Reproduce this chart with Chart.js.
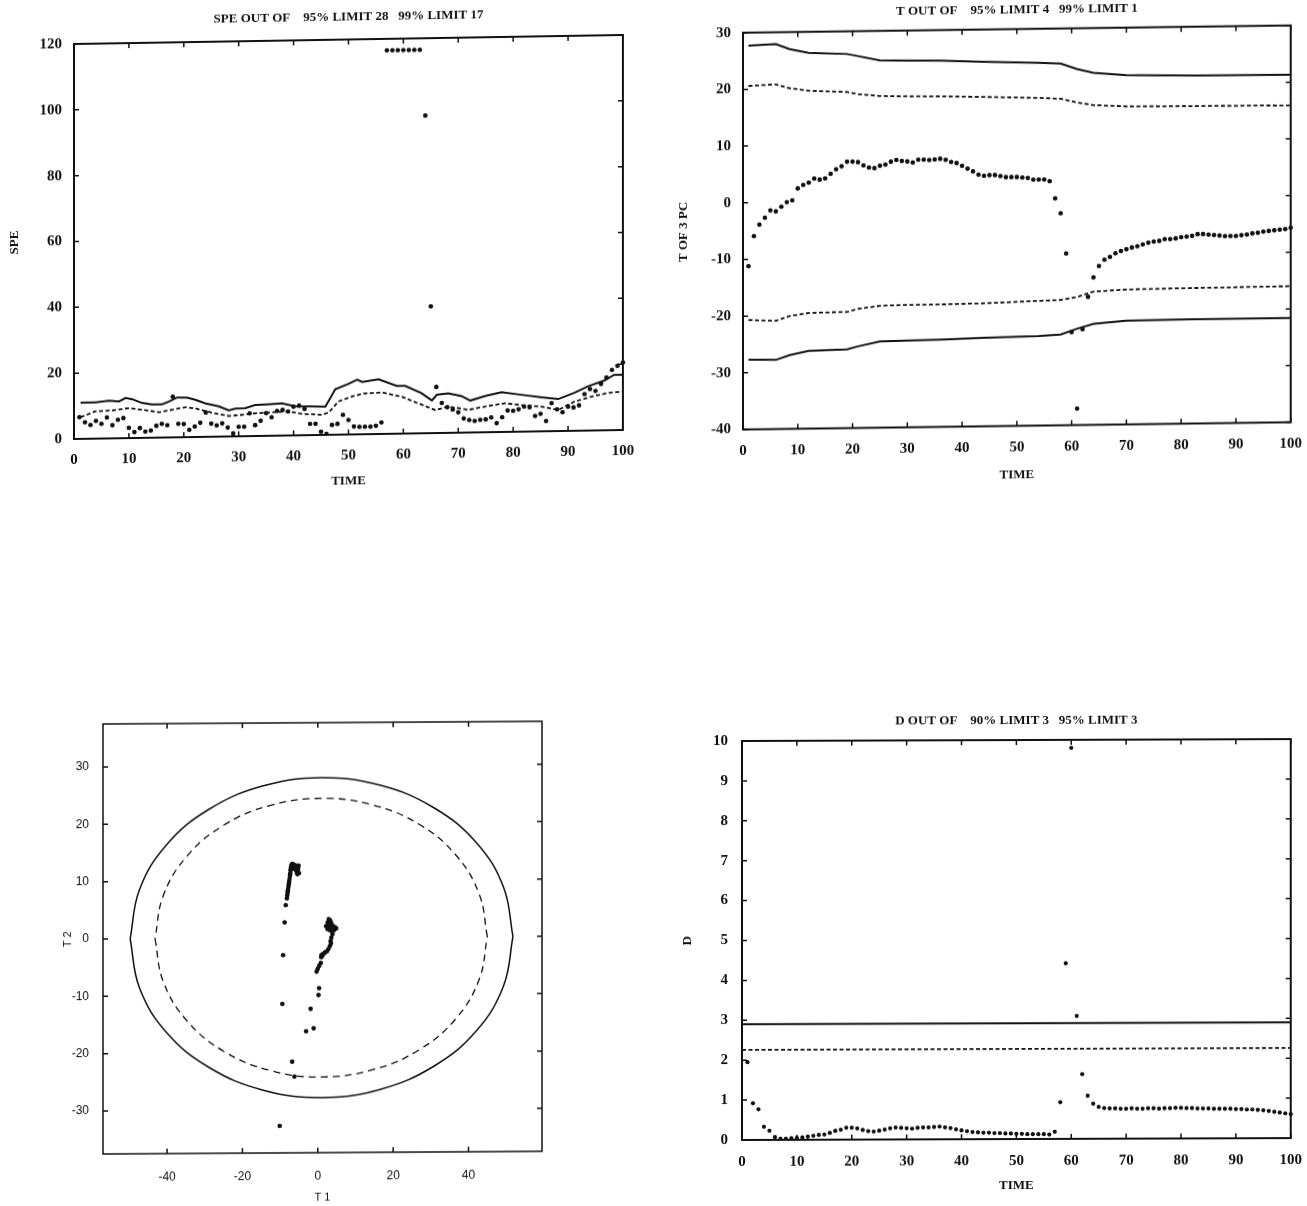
<!DOCTYPE html>
<html>
<head>
<meta charset="utf-8">
<script src="https://cdn.jsdelivr.net/npm/chart.js@4.4.0/dist/chart.umd.min.js"></script>
<style>
  html, body { margin: 0; padding: 0; background: #fff; }
  body { width: 1307px; height: 1206px; position: relative; overflow: hidden; }
  canvas { position: absolute; }
</style>
</head>
<body>
<canvas id="spe"></canvas>
<canvas id="tpc"></canvas>
<canvas id="scores"></canvas>
<canvas id="dist"></canvas>
<script>
Chart.defaults.font.family = '"Liberation Serif", "Times New Roman", serif';
Chart.defaults.color = '#111';

const TIME = Array.from({ length: 100 }, (_, i) => i + 1);
const timeTicks = [0, 10, 20, 30, 40, 50, 60, 70, 80, 90, 100];

// SPE panel
const speTicks = [0, 20, 40, 60, 80, 100, 120];
const speValues = [
  6.6, 5.0, 4.2, 5.4, 4.5, 6.4, 4.0, 5.6, 6.1, 3.1,
  1.8, 3.0, 1.9, 2.2, 3.6, 4.2, 3.7, 12.4, 4.1, 4.0,
  2.2, 3.2, 4.3, 7.4, 4.0, 3.4, 4.0, 2.7, 0.9, 2.9,
  2.9, 6.9, 3.3, 4.6, 6.9, 5.6, 7.5, 7.8, 7.3, 8.7,
  9.0, 8.0, 3.4, 3.4, 1.0, 0.3, 3.0, 3.3, 6.0, 4.4,
  2.4, 2.3, 2.3, 2.3, 2.5, 3.5, 116.5, 116.5, 116.5, 116.5,
  116.5, 116.5, 116.5, 96.5, 38.5, 14.0, 9.1, 7.8, 7.1, 6.2,
  4.3, 3.8, 3.5, 3.8, 3.9, 4.5, 2.7, 4.5, 6.5, 6.4,
  6.8, 7.6, 7.4, 4.7, 5.3, 3.1, 8.5, 6.6, 5.7, 7.4,
  7.1, 7.7, 11.1, 12.6, 12.0, 14.1, 16.0, 18.3, 19.5, 20.5
];
const speLimit99Time = [1.2, 3.9, 6.4, 8.2, 9.4, 10.6, 12.4, 14.2, 16.1, 17.3, 18.8, 20.6, 22.1, 23.9, 26.4, 28.2,
  29.4, 31.2, 33, 35.5, 37.9, 40.3, 42.7, 45.8, 47.6, 50, 51.6, 52.5, 55.5, 58.8, 60.3, 63.3, 65.2, 66.1, 68.2,
  70.6, 72.2, 74.9, 77.9, 81.5, 85.2, 88.2, 91.2, 93.6, 96.6, 98.4, 100];
const speLimit99 = [11.0, 11.0, 11.5, 11.2, 12.2, 11.8, 10.6, 10.1, 10.1, 10.9, 12.1, 12.0, 11.3, 10.2, 9.2, 7.9,
  8.4, 8.5, 9.4, 9.6, 9.8, 8.8, 8.7, 8.6, 13.8, 15.4, 16.6, 15.9, 16.6, 14.5, 14.5, 12.2, 9.9, 11.6, 12.0,
  11.1, 9.7, 11.0, 12.1, 11.2, 10.3, 9.7, 11.6, 13.4, 15.1, 16.8, 16.8];
const speLimit95Time = [1.2, 3.9, 7, 10, 13, 15.5, 17.9, 20.3, 22.1, 25.1, 28.2, 30.6, 33, 36.1, 39.1, 41.5, 45.2,
  46.4, 48.2, 50.6, 52.5, 56.1, 59.7, 62.7, 65.8, 68.2, 71.8, 74.9, 78.5, 81.5, 85.2, 88.2, 91.2, 94.8, 97.2, 100];
const speLimit95 = [6.6, 8.3, 8.5, 9.1, 8.4, 7.7, 8.4, 9.1, 8.7, 7.3, 6.2, 6.5, 6.9, 7.1, 7.3, 6.5, 6.1,
  6.8, 10.1, 11.5, 12.3, 12.6, 11.2, 9.1, 7.0, 8.0, 6.9, 7.8, 8.7, 8.1, 7.5, 6.4, 8.9, 10.5, 11.3, 11.7];

// T of 3 PC panel
const tTicks = [-40, -30, -20, -10, 0, 10, 20, 30];
const tValues = [
  -11.2, -5.9, -3.9, -2.7, -1.4, -1.6, -0.8, 0.0, 0.3, 2.4,
  3.0, 3.4, 4.1, 3.9, 4.1, 4.9, 5.7, 6.2, 7.0, 7.0,
  6.9, 6.3, 5.9, 5.8, 6.2, 6.4, 6.9, 7.2, 7.0, 6.9,
  6.7, 7.2, 7.2, 7.1, 7.2, 7.3, 7.1, 6.7, 6.5, 6.0,
  5.5, 5.0, 4.4, 4.2, 4.3, 4.3, 4.1, 3.9, 3.9, 3.9,
  3.8, 3.7, 3.4, 3.4, 3.4, 3.1, 0.05, -2.6, -9.7, -23.6,
  -37.1, -23.1, -17.4, -14.0, -12.0, -10.9, -10.4, -9.8, -9.4, -9.1,
  -8.8, -8.6, -8.3, -8.0, -7.8, -7.7, -7.4, -7.4, -7.3, -7.1,
  -7.0, -6.9, -6.6, -6.6, -6.7, -6.8, -6.9, -7.0, -7.0, -7.0,
  -6.9, -6.8, -6.6, -6.5, -6.3, -6.2, -6.1, -6.0, -5.9, -5.7
];
const tLimitTime = [1, 6, 8.5, 12, 19, 21, 25, 30, 36, 44, 54, 58, 61, 64, 70, 82, 100];
const tUpper99 = [27.7, 27.9, 27.0, 26.3, 26.0, 25.6, 24.8, 24.7, 24.6, 24.3, 24.0, 23.8, 22.8, 22.1, 21.6, 21.4, 21.3];
const tUpper95 = [20.6, 20.8, 20.1, 19.6, 19.3, 18.9, 18.5, 18.4, 18.3, 18.1, 17.8, 17.6, 16.9, 16.4, 16.1, 16.0, 15.9];
const tLower95 = [-20.7, -20.9, -20.1, -19.6, -19.5, -19.0, -18.5, -18.4, -18.4, -18.3, -18.0, -17.9, -17.4, -16.5, -16.2, -16.1, -16.0];
const tLower99 = [-27.7, -27.8, -27.0, -26.3, -26.1, -25.6, -24.8, -24.7, -24.6, -24.4, -24.2, -24.0, -23.0, -22.2, -21.7, -21.6, -21.6];

// score plot T1 / T2
const t1Ticks = [-40, -20, 0, 20, 40];
const t2Ticks = [-30, -20, -10, 0, 10, 20, 30];
const t1Scores = [
  -8.5, -8.2, -8.1, -8.0, -7.9, -7.8, -7.7, -7.6, -7.5, -7.4, -7.3, -7.2, -7.1, -7.0, -6.8, -6.5, -6.2,
  -5.8, -5.4, -5.2, -5.3, -5.6, -5.9, -6.3, -6.7, -5.0, -5.4, -7.95, -7.65, -7.35, -7.15, -6.9, -5.1, -5.7,
  -8.8, -9.2, -9.4, -6.8, -6.2, -10.1,
  2.9, 3.3, 2.6, 3.0, 3.6, 2.2, 2.8, 3.4, 4.1, 4.6, 4.9, 4.3, 3.8, 3.2, 2.6, 3.9, 3.6, 3.4, 3.5, 3.2,
  2.8, 2.4, 1.9, 1.5, 1.0, 0.9, 1.2, 0.8, 0.4, 0.0, -0.3,
  0.35, 0.2, -1.9, -1.1, -3.1
];
const t2Scores = [
  5.7, 6.9, 7.4, 7.9, 8.4, 8.9, 9.3, 9.8, 10.3, 10.8, 11.3, 11.8, 12.3, 12.7, 12.9, 12.8, 12.7,
  12.6, 12.5, 12.2, 11.8, 11.5, 11.9, 12.1, 12.3, 11.3, 11.1, 8.1, 9.6, 11.0, 12.0, 12.5, 12.6, 12.0,
  2.7, -3.0, -11.5, -21.6, -24.2, -32.8,
  3.2, 3.0, 2.6, 2.4, 2.5, 2.0, 1.9, 1.8, 2.0, 1.8, 1.6, 1.3, 1.1, 1.3, 1.5, 0.6, 0.0, -0.6, -1.0, -1.5,
  -2.0, -2.4, -2.6, -2.8, -3.0, -3.4, -3.2, -4.4, -4.9, -5.4, -5.9,
  -8.8, -10.0, -12.4, -15.8, -16.3
];
// limit contours, read as vertices going round from the right-hand point
const ellipse99X = [51.8, 49.3, 42.1, 30.9, 16.7, 1.0, -14.7, -28.9, -40.1, -47.3, -49.8, -47.3, -40.1, -28.9, -14.7, 1.0, 16.7, 30.9, 42.1, 49.3, 51.8];
const ellipse99Y = [0, 8.6, 16.4, 22.5, 26.5, 27.9, 26.5, 22.5, 16.4, 8.6, 0, -8.6, -16.4, -22.5, -26.5, -27.9, -26.5, -22.5, -16.4, -8.6, 0];
const ellipse95X = [45.0, 42.8, 36.6, 26.8, 14.5, 0.9, -12.7, -25.0, -34.8, -41.0, -43.2, -41.0, -34.8, -25.0, -12.7, 0.9, 14.5, 26.8, 36.6, 42.8, 45.0];
const ellipse95Y = [0, 7.5, 14.3, 19.7, 23.1, 24.3, 23.1, 19.7, 14.3, 7.5, 0, -7.5, -14.3, -19.7, -23.1, -24.3, -23.1, -19.7, -14.3, -7.5, 0];

// D panel
const dTicks = [0, 1, 2, 3, 4, 5, 6, 7, 8, 9, 10];
const dValues = [
  1.95, 0.92, 0.77, 0.33, 0.23, 0.07, 0.03, 0.03, 0.04, 0.05,
  0.06, 0.08, 0.10, 0.12, 0.13, 0.17, 0.22, 0.25, 0.30, 0.30,
  0.28, 0.24, 0.21, 0.20, 0.22, 0.25, 0.28, 0.30, 0.29, 0.28,
  0.27, 0.29, 0.30, 0.30, 0.31, 0.32, 0.30, 0.28, 0.25, 0.22,
  0.20, 0.18, 0.17, 0.16, 0.16, 0.15, 0.15, 0.14, 0.14, 0.13,
  0.13, 0.12, 0.12, 0.12, 0.12, 0.11, 0.18, 0.92, 4.4, 9.8,
  3.08, 1.62, 1.08, 0.88, 0.80, 0.77, 0.76, 0.76, 0.75, 0.75,
  0.76, 0.75, 0.75, 0.76, 0.76, 0.75, 0.76, 0.76, 0.77, 0.77,
  0.76, 0.76, 0.75, 0.75, 0.75, 0.74, 0.74, 0.74, 0.74, 0.73,
  0.73, 0.72, 0.72, 0.71, 0.70, 0.68, 0.66, 0.64, 0.62, 0.60
];
const dLimitTime = [0, 100];
const dLimit95 = [2.9, 2.9];
const dLimit90 = [2.26, 2.26];

const pts = (xs, ys) => xs.map((x, i) => ({ x: x, y: ys[i] }));

const solid = (data, w) => ({ data, showLine: true, borderColor: '#111', borderWidth: w, pointRadius: 0, tension: 0, fill: false });
const dashed = (data, w, dash) => ({ ...solid(data, w), borderDash: dash });
const curve = (data, w, dash) => ({ ...solid(data, w), borderDash: dash || [], tension: 0.4 });
const dots = (data, r) => ({ data, showLine: false, pointRadius: r, pointBackgroundColor: '#111', pointBorderWidth: 0, clip: 8 });

// box around plot with inward ticks on all sides, plus the panel heading
const frame = {
  id: 'frame',
  afterDraw(chart, args, o) {
    const { ctx, chartArea: a } = chart;
    const xs = chart.scales.x, ys = chart.scales.y;
    ctx.save();
    ctx.strokeStyle = '#111';
    ctx.lineWidth = o.width;
    ctx.strokeRect(a.left, a.top, a.right - a.left, a.bottom - a.top);
    ctx.lineWidth = o.tickWidth;
    ctx.beginPath();
    xs.ticks.forEach(t => {
      const p = xs.getPixelForValue(t.value);
      ctx.moveTo(p, a.bottom); ctx.lineTo(p, a.bottom - o.tick);
      ctx.moveTo(p, a.top); ctx.lineTo(p, a.top + o.tick);
    });
    ys.ticks.forEach(t => {
      const p = ys.getPixelForValue(t.value);
      ctx.moveTo(a.left, p); ctx.lineTo(a.left + o.tick, p);
      ctx.moveTo(a.right, p); ctx.lineTo(a.right - o.tick, p);
    });
    ctx.stroke();
    if (o.title) {
      ctx.fillStyle = '#111';
      ctx.font = 'bold 13px "Liberation Serif"';
      ctx.textAlign = 'center';
      ctx.textBaseline = 'middle';
      ctx.fillText(o.title, (a.left + a.right) / 2, o.titleY);
    }
    ctx.restore();
  }
};

function panel(id, box, area, cfg) {
  const cv = document.getElementById(id);
  cv.width = box.w;
  cv.height = box.h;
  cv.style.left = box.x + 'px';
  cv.style.top = box.y + 'px';
  const L = area.l - box.x, R = area.r - box.x, T = area.t - box.y, B = area.b - box.y;
  // the scanned page is slightly sheared
  cv.style.transformOrigin = L + 'px ' + B + 'px';
  cv.style.transform = 'skewY(' + cfg.skew + 'deg)';

  const axis = (ax, horizontal) => ({
    type: 'linear',
    min: ax.min,
    max: ax.max,
    grid: { display: false },
    border: { display: false },
    afterBuildTicks: s => { s.ticks = ax.ticks.map(v => ({ value: v })); },
    afterFit: s => { if (horizontal) s.height = box.h - B; else s.width = L; },
    ticks: { autoSkip: false, maxRotation: 0, padding: ax.pad, font: cfg.tickFont, color: '#111' },
    title: {
      display: true,
      text: ax.title,
      color: '#111',
      font: cfg.titleFont,
      padding: horizontal ? { top: 0, bottom: ax.titlePad } : { top: ax.titlePad, bottom: 0 }
    }
  });

  return new Chart(cv, {
    type: 'scatter',
    data: { datasets: cfg.datasets },
    options: {
      responsive: false,
      animation: false,
      devicePixelRatio: 1,
      layout: { padding: { left: 0, top: T, right: box.w - R, bottom: 0 } },
      plugins: {
        legend: { display: false },
        tooltip: { enabled: false },
        frame: { width: cfg.frameWidth, tickWidth: 1.5, tick: 5, title: cfg.title, titleY: cfg.titleY - box.y }
      },
      scales: { x: axis(cfg.x, true), y: axis(cfg.y, false) }
    },
    plugins: [frame]
  });
}

const serifTicks = { family: '"Liberation Serif"', size: 15, weight: 'bold' };
const serifTitle = { family: '"Liberation Serif"', size: 13, weight: 'bold' };

panel('spe', { x: 0, y: 0, w: 660, h: 500 }, { l: 74, r: 623, t: 44, b: 439 }, {
  skew: -0.94,
  title: 'SPE OUT OF    95% LIMIT 28   99% LIMIT 17',
  titleY: 22,
  frameWidth: 2,
  tickFont: serifTicks,
  titleFont: serifTitle,
  x: { min: 0, max: 100, ticks: timeTicks, pad: 4, title: 'TIME', titlePad: 7 },
  y: { min: 0, max: 120, ticks: speTicks, pad: 4, title: 'SPE', titlePad: 7 },
  datasets: [
    solid(pts(speLimit99Time, speLimit99), 2),
    dashed(pts(speLimit95Time, speLimit95), 1.8, [4, 2.5]),
    dots(pts(TIME, speValues), 2.3)
  ]
});

panel('tpc', { x: 647, y: 0, w: 660, h: 500 }, { l: 743, r: 1292, t: 32.7, b: 429.5 }, {
  skew: -0.76,
  title: 'T OUT OF    95% LIMIT 4   99% LIMIT 1',
  titleY: 14,
  frameWidth: 2,
  tickFont: serifTicks,
  titleFont: serifTitle,
  x: { min: 0, max: 100, ticks: timeTicks, pad: 5, title: 'TIME', titlePad: 14 },
  y: { min: -40, max: 30, ticks: tTicks, pad: 4, title: 'T OF 3 PC', titlePad: 29 },
  datasets: [
    solid(pts(tLimitTime, tUpper99), 2),
    dashed(pts(tLimitTime, tUpper95), 1.8, [4, 2.5]),
    dashed(pts(tLimitTime, tLower95), 1.8, [4, 2.5]),
    solid(pts(tLimitTime, tLower99), 2),
    dots(pts(TIME, tValues), 2.3)
  ]
});

const ring99 = pts(ellipse99X, ellipse99Y);
const ring95 = pts(ellipse95X, ellipse95Y);

panel('scores', { x: 0, y: 600, w: 660, h: 606 }, { l: 103, r: 542, t: 724, b: 1154 }, {
  skew: -0.35,
  title: '',
  titleY: 0,
  frameWidth: 1.5,
  tickFont: { family: '"Liberation Sans"', size: 12 },
  titleFont: { family: '"Liberation Sans"', size: 11 },
  x: { min: -57, max: 59.5, ticks: t1Ticks, pad: 8, title: 'T 1', titlePad: 0 },
  y: { min: -37.5, max: 37.5, ticks: t2Ticks, pad: 6, title: 'T 2', titlePad: 61 },
  datasets: [
    curve(ring99.slice(0, 11), 1.5),
    curve(ring99.slice(10), 1.5),
    curve(ring95.slice(0, 11), 1.3, [7, 5]),
    curve(ring95.slice(10), 1.3, [7, 5]),
    dots(pts(t1Scores, t2Scores), 2.3)
  ]
});

panel('dist', { x: 647, y: 690, w: 660, h: 516 }, { l: 742, r: 1292, t: 741, b: 1140 }, {
  skew: -0.2,
  title: 'D OUT OF    90% LIMIT 3   95% LIMIT 3',
  titleY: 722,
  frameWidth: 2,
  tickFont: serifTicks,
  titleFont: serifTitle,
  x: { min: 0, max: 100, ticks: timeTicks, pad: 5, title: 'TIME', titlePad: 12 },
  y: { min: 0, max: 10, ticks: dTicks, pad: 6, title: 'D', titlePad: 33 },
  datasets: [
    solid(pts(dLimitTime, dLimit95), 2),
    dashed(pts(dLimitTime, dLimit90), 1.8, [4, 2.5]),
    dots(pts(TIME, dValues), 2.1)
  ]
});
</script>
</body>
</html>
